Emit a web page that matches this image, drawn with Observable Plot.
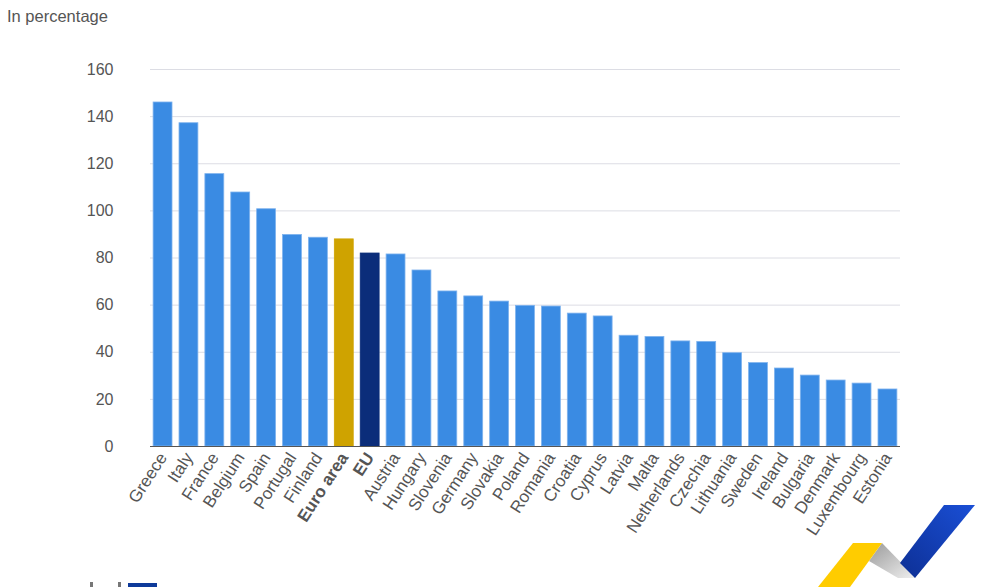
<!DOCTYPE html>
<html>
<head>
<meta charset="utf-8">
<script src="https://cdn.jsdelivr.net/npm/d3@7"></script>
<script src="https://cdn.jsdelivr.net/npm/@observablehq/plot@0.6"></script>
<style>
  html, body { margin: 0; padding: 0; background: #fff; overflow: hidden; }
  #wrap { position: relative; width: 1000px; height: 587px; font-family: "Liberation Sans", Arial, sans-serif; }
  #unit { position: absolute; left: 7px; top: 7px; font-size: 16.5px; color: #555; }
  #logo { position: absolute; left: 0; top: 0; pointer-events: none; }
</style>
</head>
<body>
<div id="wrap">
  <div id="chart"></div>
  <div id="unit">In percentage</div>
  <svg id="logo" width="1000" height="587">
    <defs>
      <linearGradient id="gg" x1="0" y1="0" x2="1" y2="1">
        <stop offset="0" stop-color="#9a9a9a"/>
        <stop offset="1" stop-color="#f0f0f0"/>
      </linearGradient>
      <linearGradient id="bg" x1="1" y1="0" x2="0" y2="1">
        <stop offset="0" stop-color="#1a4fd6"/>
        <stop offset="1" stop-color="#0d2f94"/>
      </linearGradient>
    </defs>
    <polygon points="869,561 882,543 916,578 898,578" fill="url(#gg)"/>
    <polygon points="900,563 944,505 975,505 915,578" fill="url(#bg)"/>
    <polygon points="853,543 882,543 850,587 818,587" fill="#ffcc00"/>
    <rect x="128" y="583" width="29" height="4" fill="#0e3a9a"/>
    <rect x="90" y="582" width="3" height="5" fill="#777"/>
    <rect x="118" y="582" width="3" height="5" fill="#777"/>
  </svg>
</div>
<script>
const countries = ["Greece","Italy","France","Belgium","Spain","Portugal","Finland","Euro area","EU","Austria","Hungary","Slovenia","Germany","Slovakia","Poland","Romania","Croatia","Cyprus","Latvia","Malta","Netherlands","Czechia","Lithuania","Sweden","Ireland","Bulgaria","Denmark","Luxembourg","Estonia"];
const values = [146.0,137.2,115.6,107.8,100.7,89.8,88.6,87.9,81.9,81.5,74.7,65.8,63.7,61.5,59.7,59.4,56.4,55.2,47.0,46.5,44.6,44.4,39.6,35.4,33.1,30.1,28.0,26.7,24.2];
const yTicks = [0,20,40,60,80,100,120,140,160];
const highlight = {"Euro area": "#cfa300", "EU": "#0b2d7a"};
const barColor = "#3a8be3";

const data = countries.map((c, i) => ({country: c, value: values[i], color: highlight[c] || barColor}));

const chart = Plot.plot({
  width: 1000,
  height: 587,
  marginTop: 69,
  marginBottom: 141,
  marginLeft: 150,
  marginRight: 100,
  style: {fontFamily: "'Liberation Sans', Arial, sans-serif", background: "transparent", color: "#555"},
  x: {domain: countries, paddingInner: 0.27, paddingOuter: 0.12, round: false, label: null},
  y: {domain: [0, 160], ticks: yTicks, label: null},
  marks: [
    Plot.gridY(yTicks, {stroke: "#dcdde4", strokeOpacity: 1, strokeWidth: 1}),
    Plot.barY(data, {x: "country", y: "value", fill: "color", stroke: d => d.color === barColor ? "#7fb3ee" : d.color, strokeWidth: 0.8}),
    Plot.ruleY([0], {stroke: "#555", strokeWidth: 1}),
    Plot.axisY(yTicks, {tickSize: 0, tickPadding: 37, fontSize: 16, fill: "#555", label: null}),
    Plot.axisX({tickSize: 0, tickPadding: 8, tickRotate: -57, fontSize: 17, fill: "#555", label: null})
  ]
});

d3.select(chart).selectAll("text").filter(function() {
  const t = this.textContent;
  return t === "Euro area" || t === "EU";
}).attr("font-weight", "bold");

document.getElementById("chart").appendChild(chart);
</script>
</body>
</html>
